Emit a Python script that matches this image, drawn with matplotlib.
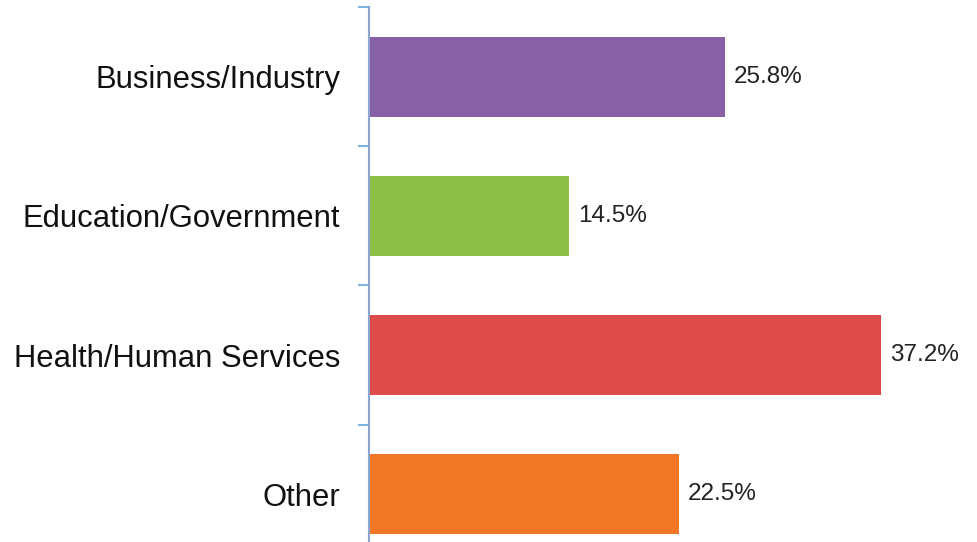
import matplotlib
matplotlib.use("Agg")
import matplotlib.pyplot as plt
import numpy as np

categories = ["Business/Industry", "Education/Government", "Health/Human Services", "Other"]
values = [25.8, 14.5, 37.2, 22.5]
value_labels = ["25.8%", "14.5%", "37.2%", "22.5%"]
colors = ["#8661a5", "#8dbf48", "#de4b4b", "#f17726"]

plt.rcParams['font.family'] = ['Liberation Sans', 'DejaVu Sans']

fig = plt.figure(figsize=(9.78, 5.42), dpi=100)
W, H = 978, 542
left_px, top_px, bottom_px = 369.5, 7, 564
ax = fig.add_axes([left_px / W, 1 - bottom_px / H, 1 - left_px / W, (bottom_px - top_px) / H])

y = np.arange(len(categories))
ax.barh(y, values, height=0.575, color=colors, zorder=2)
for yi, v, lab in zip(y, values, value_labels):
    ax.text(v + 0.65, yi, lab, va='center', ha='left', fontsize=17.5, color='#222222')

ax.set_ylim(len(categories) - 0.5, -0.5)
ax.set_xlim(0, (W - left_px) / 13.76)

for s in ['top', 'right', 'bottom']:
    ax.spines[s].set_visible(False)
ax.spines['left'].set_color('#8ca6cf')
ax.spines['left'].set_linewidth(1.5)

ax.set_xticks([])
ax.set_yticks(np.arange(len(categories) + 1) - 0.5)
ax.set_yticklabels([])
ax.tick_params(axis='y', which='major', length=8, width=1.5, color='#7fb3e0')
ax.set_yticks(y, minor=True)
ax.set_yticklabels(categories, minor=True, fontsize=22.3, color='#111111')
ax.tick_params(axis='y', which='minor', length=0, pad=21)

fig.savefig("out.png", dpi=100)
